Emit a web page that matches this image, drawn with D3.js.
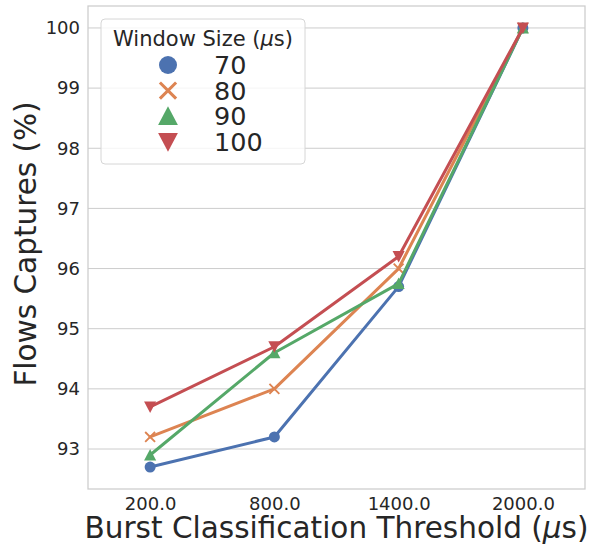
<!DOCTYPE html>
<html>
<head>
<meta charset="utf-8">
<script src="https://cdn.jsdelivr.net/npm/d3@7"></script>
<style>
  html, body { margin: 0; padding: 0; background: #fff; }
  svg { display: block; font-family: "DejaVu Sans", sans-serif; }
</style>
</head>
<body>
<svg id="chart" width="592" height="550"></svg>
<script>
// Burst classification thresholds (x categories, µs)
const thresholds = ["200.0", "800.0", "1400.0", "2000.0"];
// Window sizes (µs) — one series each
const windowSizes = ["70", "80", "90", "100"];
// Flow capture percentages per window size
const capture70  = [92.7, 93.2, 95.7, 100.0];
const capture80  = [93.2, 94.0, 96.0, 100.0];
const capture90  = [92.9, 94.6, 95.75, 100.0];
const capture100 = [93.7, 94.7, 96.2, 100.0];
const yTicks = [93, 94, 95, 96, 97, 98, 99, 100];

const seriesValues = [capture70, capture80, capture90, capture100];
const colors = ["#4C72B0", "#DD8452", "#55A868", "#C44E52"];
const shapes = ["circle", "x", "up", "down"];

const svg = d3.select("#chart");
const margin = { left: 88, right: 7, top: 6, bottom: 61 };
const W = 592, H = 550;
const plotW = W - margin.left - margin.right;
const plotH = H - margin.top - margin.bottom;

const yMin = d3.min(seriesValues.flat()), yMax = d3.max(seriesValues.flat());
const pad = (yMax - yMin) * 0.05;

const x = d3.scalePoint().domain(thresholds).range([0, plotW]).padding(0.5);
const y = d3.scaleLinear().domain([yMin - pad, yMax + pad]).range([plotH, 0]);

const g = svg.append("g").attr("transform", `translate(${margin.left},${margin.top})`);

// horizontal grid
g.append("g")
  .selectAll("line")
  .data(yTicks)
  .join("line")
  .attr("x1", 0).attr("x2", plotW)
  .attr("y1", d => y(d)).attr("y2", d => y(d))
  .attr("stroke", "#cccccc").attr("stroke-width", 1);

// frame
g.append("rect")
  .attr("x", 0).attr("y", 0).attr("width", plotW).attr("height", plotH)
  .attr("fill", "none").attr("stroke", "#cccccc").attr("stroke-width", 1.25);

// axes
const yAxis = g.append("g").call(d3.axisLeft(y).tickValues(yTicks).tickSize(0).tickPadding(8).tickFormat(d3.format("d")));
yAxis.select(".domain").remove();
yAxis.selectAll("text").attr("font-size", 18).attr("fill", "#262626").attr("font-family", "DejaVu Sans");

const xAxis = g.append("g").attr("transform", `translate(0,${plotH})`)
  .call(d3.axisBottom(x).tickSize(0).tickPadding(8));
xAxis.select(".domain").remove();
xAxis.selectAll("text").attr("font-size", 18).attr("fill", "#262626").attr("font-family", "DejaVu Sans");

// marker drawing
function drawMarker(sel, shape, color, s) {
  if (shape === "circle") {
    sel.append("circle").attr("r", s * 0.5).attr("fill", color);
  } else if (shape === "x") {
    const h = s * 0.45;
    sel.append("path").attr("d", `M${-h},${-h}L${h},${h}M${-h},${h}L${h},${-h}`)
      .attr("stroke", color).attr("stroke-width", s * 0.17).attr("fill", "none");
  } else if (shape === "up") {
    const h = s * 0.55;
    sel.append("path").attr("d", `M0,${-h}L${h},${h * 0.9}L${-h},${h * 0.9}Z`).attr("fill", color);
  } else {
    const h = s * 0.55;
    sel.append("path").attr("d", `M0,${h}L${h},${-h * 0.9}L${-h},${-h * 0.9}Z`).attr("fill", color);
  }
}

// series
const line = d3.line().x((d, i) => x(thresholds[i])).y(d => y(d));
seriesValues.forEach((vals, si) => {
  const sg = g.append("g");
  sg.append("path").datum(vals).attr("d", line)
    .attr("fill", "none").attr("stroke", colors[si]).attr("stroke-width", 3)
    .attr("stroke-linejoin", "round").attr("stroke-linecap", "round");
  vals.forEach((v, i) => {
    const m = sg.append("g").attr("transform", `translate(${x(thresholds[i])},${y(v)})`);
    drawMarker(m, shapes[si], colors[si], 11);
  });
});

// legend
const lg = svg.append("g").attr("transform", "translate(101,19)");
lg.append("rect").attr("width", 204).attr("height", 145).attr("rx", 4)
  .attr("fill", "#ffffff").attr("fill-opacity", 0.8)
  .attr("stroke", "#d6d6d6").attr("stroke-width", 1);
const title = lg.append("text").attr("x", 102).attr("y", 27).attr("text-anchor", "middle")
  .attr("font-size", 21).attr("fill", "#262626");
title.append("tspan").text("Window Size (");
title.append("tspan").attr("font-style", "italic").text("μ");
title.append("tspan").text("s)");
windowSizes.forEach((w, i) => {
  const cy = 46 + i * 25.6;
  const m = lg.append("g").attr("transform", `translate(67,${cy})`);
  drawMarker(m, shapes[i], colors[i], 18);
  lg.append("text").attr("x", 113).attr("y", cy + 9).attr("font-size", 25.5)
    .attr("fill", "#262626").text(w);
});

// axis titles
const xl = svg.append("text").attr("x", margin.left + plotW / 2).attr("y", 538)
  .attr("text-anchor", "middle").attr("font-size", 29.5).attr("fill", "#262626");
xl.append("tspan").text("Burst Classification Threshold (");
xl.append("tspan").attr("font-style", "italic").text("μ");
xl.append("tspan").text("s)");

svg.append("text")
  .attr("transform", `translate(36,244) rotate(-90)`)
  .attr("text-anchor", "middle").attr("font-size", 29.5).attr("fill", "#262626")
  .text("Flows Captures (%)");
</script>
</body>
</html>
